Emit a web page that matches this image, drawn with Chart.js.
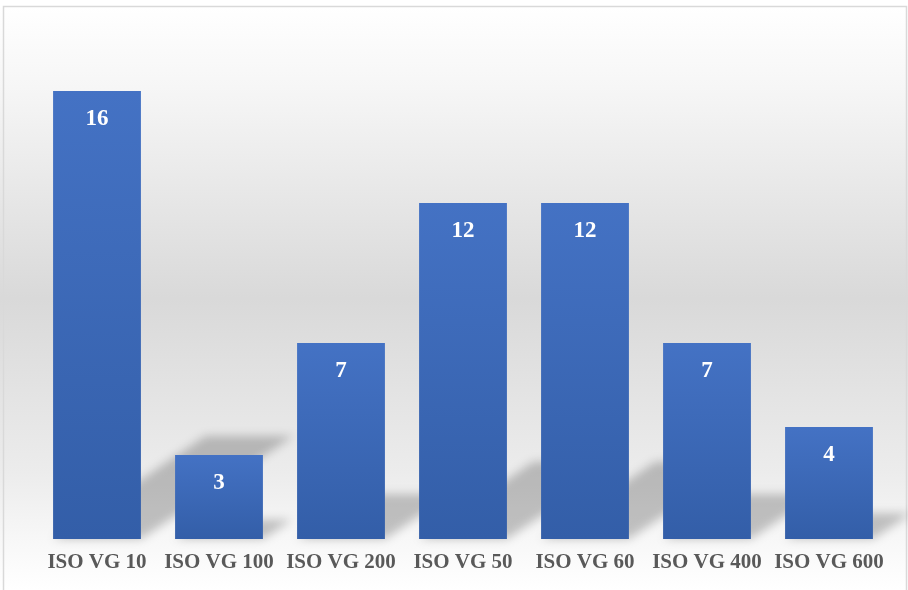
<!doctype html>
<html lang="en">
<head>
<meta charset="UTF-8" />
<title>ISO VG</title>
<style>
  html, body { margin: 0; padding: 0; background: #ffffff; }
  #wrap { width: 908px; height: 590px; position: relative; }
</style>
</head>
<body>
<div id="wrap"><canvas id="canvas"></canvas></div>

<script src="https://cdn.jsdelivr.net/npm/chart.js"></script>
<script>
const categories = ['ISO VG 10', 'ISO VG 100', 'ISO VG 200', 'ISO VG 50', 'ISO VG 60', 'ISO VG 400', 'ISO VG 600']
const counts = [16, 3, 7, 12, 12, 7, 4]
const yMax = 18

// page background: grey band behind the bars, white at top and bottom
const backdrop = {
  id: 'backdrop',
  beforeDraw(chart) {
    const {ctx, width, height} = chart
    ctx.save()
    let g = ctx.createLinearGradient(0, 6, 0, height)
    g.addColorStop(0, '#ffffff')
    g.addColorStop(0.14, '#f6f6f6')
    g.addColorStop(0.5, '#d9d9d9')
    g.addColorStop(0.8, '#ececec')
    g.addColorStop(0.92, '#f8f8f8')
    g.addColorStop(1, '#ffffff')
    ctx.fillStyle = g
    ctx.fillRect(0, 0, width, height)
    ctx.strokeStyle = '#d9d9d9'
    ctx.lineWidth = 1.5
    ctx.strokeRect(3.5, 6.5, width - 5, height + 10)
    ctx.restore()
  }
}

// perspective shadow thrown up and to the right by every bar
const barShadow = {
  id: 'barShadow',
  beforeDatasetsDraw(chart) {
    const {ctx} = chart
    const meta = chart.getDatasetMeta(0)
    ctx.save()
    ctx.filter = 'blur(5px)'
    ctx.fillStyle = 'rgba(0,0,0,0.22)'
    meta.data.forEach(bar => {
      const h = bar.base - bar.y
      const dx = h * 0.34, dy = h * 0.23
      const x0 = bar.x - bar.width / 2, x1 = bar.x + bar.width / 2
      ctx.beginPath()
      ctx.moveTo(x0, bar.base)
      ctx.lineTo(x1, bar.base)
      ctx.lineTo(x1 + dx, bar.base - dy)
      ctx.lineTo(x0 + dx, bar.base - dy)
      ctx.closePath()
      ctx.fill()
    })
    ctx.restore()
  }
}

// value printed inside the top of each bar
const valueLabels = {
  id: 'valueLabels',
  afterDatasetsDraw(chart) {
    const {ctx} = chart
    const meta = chart.getDatasetMeta(0)
    ctx.save()
    ctx.fillStyle = '#ffffff'
    ctx.font = 'bold 23px "Liberation Serif", "Times New Roman", serif'
    ctx.textAlign = 'center'
    ctx.textBaseline = 'middle'
    meta.data.forEach((bar, i) => {
      ctx.fillText(String(counts[i]), bar.x, bar.y + 28)
    })
    ctx.restore()
  }
}

function barFill(context) {
  const chart = context.chart
  if (!chart.chartArea || !chart.scales.y) return '#3d69b9'
  const v = context.raw
  const top = chart.scales.y.getPixelForValue(v)
  const bottom = chart.scales.y.getPixelForValue(0)
  const g = chart.ctx.createLinearGradient(0, top, 0, bottom)
  g.addColorStop(0, '#4472c4')
  g.addColorStop(1, '#335ea8')
  return g
}

new Chart(document.getElementById('canvas'), {
  type: 'bar',
  data: {
    labels: categories,
    datasets: [{
      data: counts,
      backgroundColor: barFill,
      borderWidth: 0,
      barPercentage: 0.72,
      categoryPercentage: 1.0
    }]
  },
  options: {
    responsive: true,
    maintainAspectRatio: false,
    animation: false,
    layout: { padding: { left: 36, right: 18, top: 35, bottom: 0 } },
    plugins: { legend: { display: false }, tooltip: { enabled: false } },
    scales: {
      x: {
        grid: { display: false, drawTicks: false },
        border: { display: false },
        ticks: {
          color: '#595959',
          padding: 11,
          maxRotation: 0,
          autoSkip: false,
          font: { family: '"Liberation Serif", "Times New Roman", serif', size: 21, weight: 'bold' }
        },
        afterFit(scale) { scale.height = 51 }
      },
      y: {
        display: false,
        min: 0,
        max: yMax
      }
    }
  },
  plugins: [backdrop, barShadow, valueLabels]
})
</script>
</body>
</html>
